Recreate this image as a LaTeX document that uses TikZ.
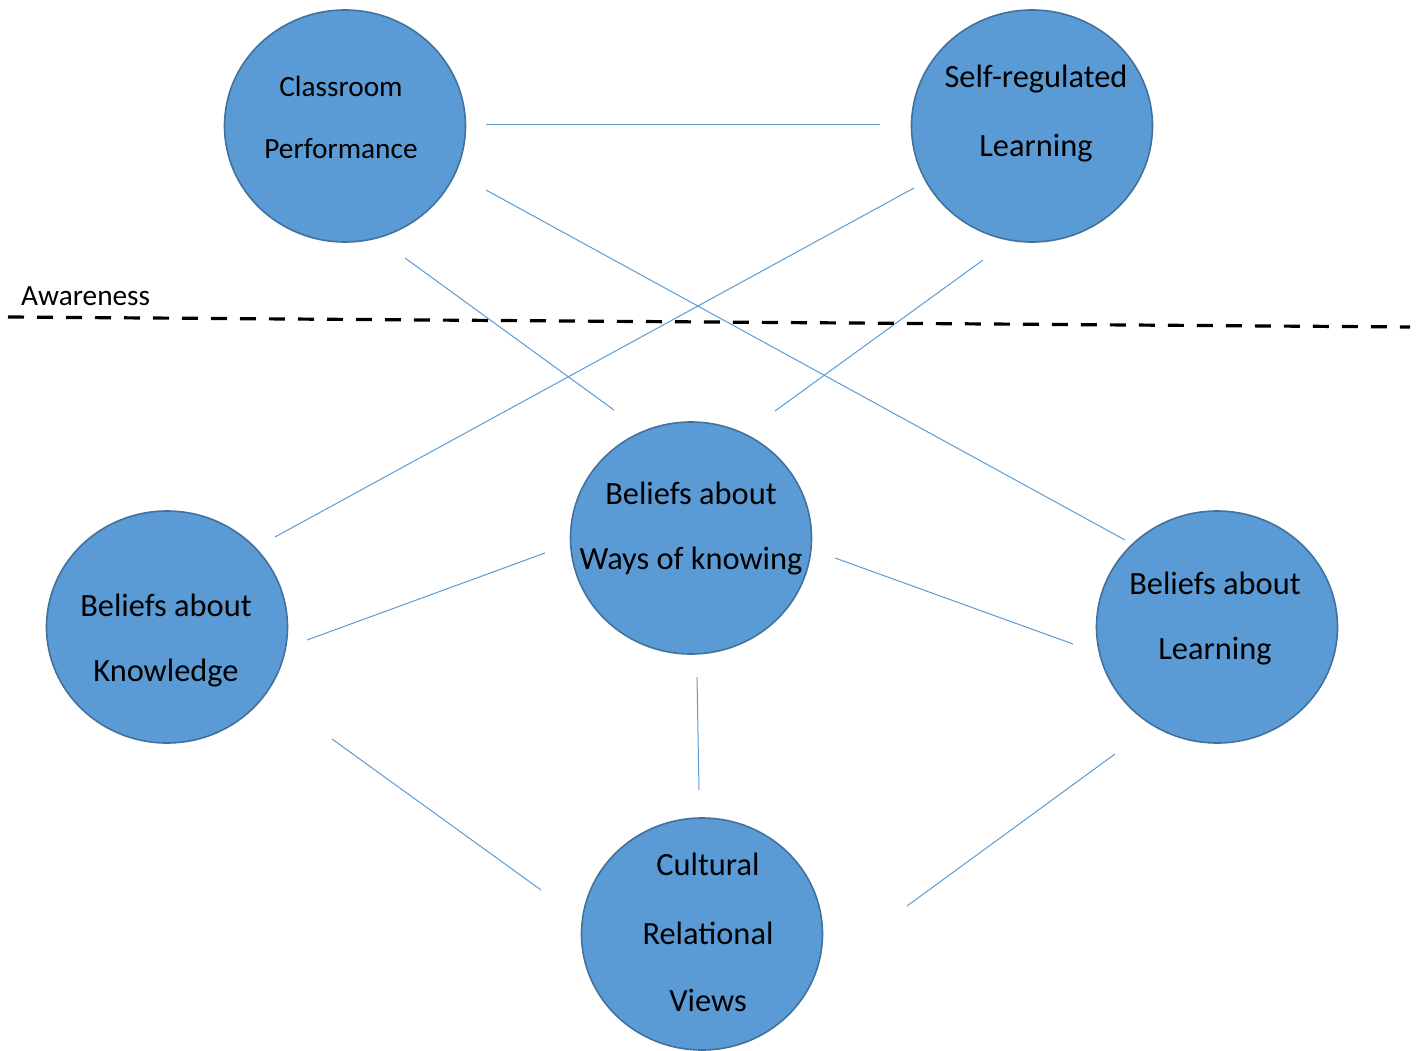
\documentclass[tikz,border=0pt]{standalone}
\usepackage{fontspec}
\setmainfont{Carlito}
\usetikzlibrary{shapes.geometric}
\definecolor{cfill}{HTML}{5B9BD5}
\definecolor{cedge}{HTML}{41719C}
\begin{document}
\begin{tikzpicture}[x=1pt,y=-1pt,
  bub/.style={ellipse,draw=cedge,line width=1.6pt,fill=cfill,minimum width=241pt,minimum height=232pt,inner sep=0pt},
  lbl/.style={inner sep=0pt,font=\fontsize{32.4}{32}\selectfont,text=black},
  slbl/.style={inner sep=0pt,font=\fontsize{29.3}{29}\selectfont,text=black},
  link/.style={draw=cfill,line width=1pt}]
\useasboundingbox (0,0) rectangle (1421,1051);
% bubbles
\node[bub] (cp) at (345,126) {};
\node[bub] (srl) at (1032,126) {};
\node[bub] (bw) at (691,538) {};
\node[bub] (bk) at (167,627) {};
\node[bub] (bl) at (1217,627) {};
\node[bub] (cr) at (702,934) {};
% labels
\node[slbl] (t1a) at (341,86) {Classroom};
\node[slbl] (t1b) at (341,149) {Performance};
\node[lbl] (t2a) at (1036,79) {Self-regulated};
\node[lbl] (t2b) at (1036,148) {Learning};
\node[lbl] (t3a) at (691,493) {Beliefs about};
\node[lbl] (t3b) at (691,561) {Ways of knowing};
\node[lbl] (t4a) at (166,605) {Beliefs about};
\node[lbl] (t4b) at (166,673) {Knowledge};
\node[lbl] (t5a) at (1215,583) {Beliefs about};
\node[lbl] (t5b) at (1215,651) {Learning};
\node[lbl] (t6a) at (708,864) {Cultural};
\node[lbl] (t6b) at (708,933) {Relational};
\node[lbl] (t6c) at (708,1000) {Views};
% connector end points
\coordinate (a1) at (486,125); \coordinate (a2) at (880,125);
\coordinate (b1) at (486,190); \coordinate (b2) at (1125,540);
\coordinate (c1) at (914,188); \coordinate (c2) at (275,537);
\coordinate (d1) at (405,258); \coordinate (d2) at (614,410);
\coordinate (e1) at (983,260); \coordinate (e2) at (775,411);
\coordinate (f1) at (545,553); \coordinate (f2) at (307,640);
\coordinate (g1) at (835,558); \coordinate (g2) at (1073,644);
\coordinate (h1) at (697,677); \coordinate (h2) at (699,790);
\coordinate (i1) at (332,739); \coordinate (i2) at (541,890);
\coordinate (j1) at (1115,754); \coordinate (j2) at (907,906);
\draw[link] (a1) -- (a2);
\draw[link] (b1) -- (b2);
\draw[link] (c1) -- (c2);
\draw[link] (d1) -- (d2);
\draw[link] (e1) -- (e2);
\draw[link] (f1) -- (f2);
\draw[link] (g1) -- (g2);
\draw[link] (h1) -- (h2);
\draw[link] (i1) -- (i2);
\draw[link] (j1) -- (j2);
% awareness line
\coordinate (aw1) at (8,317); \coordinate (aw2) at (1410,327);
\draw[black,line width=3.2pt,dash pattern=on 16pt off 13pt] (aw1) -- (aw2);
\node[slbl,anchor=west] (aw) at (21,296) {Awareness};
\end{tikzpicture}
\end{document}
